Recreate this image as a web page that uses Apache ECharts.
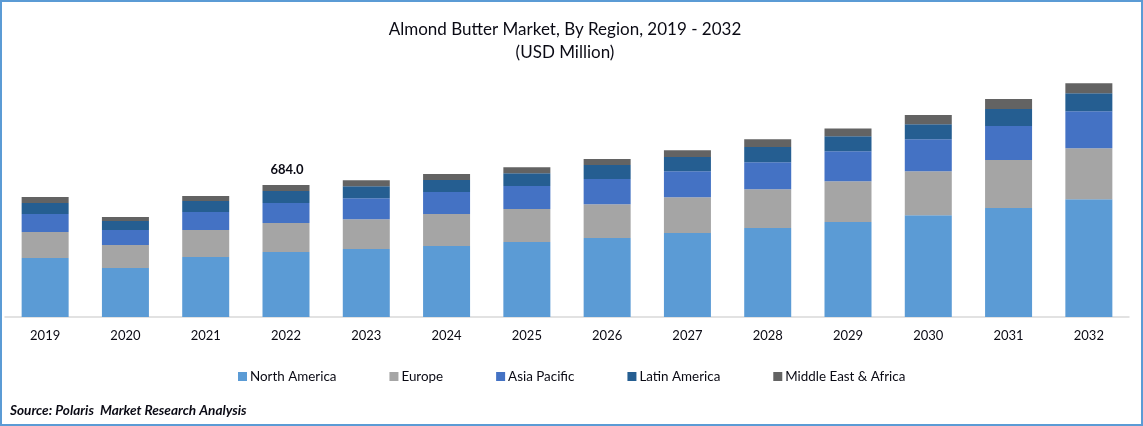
<!DOCTYPE html>
<html>
<head>
<meta charset="utf-8">
<style>
  html, body { margin: 0; padding: 0; background: #fff; }
  #chart { width: 1143px; height: 426px; }
</style>
<script src="https://cdn.jsdelivr.net/npm/echarts@6/dist/echarts.min.js"></script>
</head>
<body>
<div id="chart"></div>
<script>
// values, USD million
const years = ['2019','2020','2021','2022','2023','2024','2025','2026','2027','2028','2029','2030','2031','2032'];
const northAmerica = [306,254,311,337,352,368,389,409,435,461,492,528,565,611];
const europe       = [135,119,140,150,155,166,171,176,186,202,212,228,249,264];
const asiaPacific  = [93,78,93,104,109,114,119,130,135,140,155,166,176,192];
const latinAmerica = [57,47,57,62,62,62,67,73,73,78,78,78,88,93];
const middleEast   = [31,21,26,31,31,31,31,31,36,41,41,47,52,52];
const totalLabels  = ['','','','684.0','','','','','','','','','',''];

const fontName = 'Lato';
const textColor = '#0a0a14';

function makeSeries(name, data, color) {
  return {
    name: name,
    type: 'bar',
    stack: 'total',
    data: data,
    barWidth: 47,
    itemStyle: { color: color }
  };
}

const series = [
  makeSeries('North America', northAmerica, '#5B9BD5'),
  makeSeries('Europe', europe, '#A5A5A5'),
  makeSeries('Asia Pacific', asiaPacific, '#4472C4'),
  makeSeries('Latin America', latinAmerica, '#255E91'),
  makeSeries('Middle East & Africa', middleEast, '#636363')
];
// only 2022 carries a total
series[4].label = {
  show: true,
  position: 'top',
  distance: 9,
  offset: [1, 0],
  fontFamily: fontName,
  fontSize: 13,
  fontWeight: 'bold',
  color: textColor,
  formatter: function (p) { return totalLabels[p.dataIndex]; }
};

const chart = echarts.init(document.getElementById('chart'), null, { renderer: 'canvas' });
chart.setOption({
  animation: false,
  backgroundColor: '#fff',
  title: {
    text: 'Almond Butter Market, By Region, 2019 - 2032\n(USD Million)',
    left: 560,
    top: 13,
    textAlign: 'center',
    textStyle: {
      fontFamily: fontName,
      fontSize: 17,
      fontWeight: 'normal',
      color: textColor,
      lineHeight: 23
    }
  },
  legend: {
    left: 233,
    top: 365,
    icon: 'rect',
    itemWidth: 9,
    itemHeight: 9,
    itemGap: 53,
    textStyle: { fontFamily: fontName, fontSize: 13.4, color: textColor, padding: [0, 0, 0, -2] },
    data: series.map(s => s.name)
  },
  grid: { left: 5, right: 14, top: 47, bottom: 109 },
  xAxis: {
    type: 'category',
    data: years,
    axisLine: { lineStyle: { color: '#D9D9D9', width: 1.5 } },
    axisTick: { show: false },
    axisLabel: { margin: 12, fontFamily: fontName, fontSize: 13, color: textColor }
  },
  yAxis: { type: 'value', min: 0, max: 1400, show: false, splitLine: { show: false } },
  series: series,
  graphic: [
    {
      type: 'rect',
      shape: { x: 1, y: 1, width: 1141, height: 424 },
      style: { fill: 'none', stroke: '#5B9BD5', lineWidth: 2 }
    },
    {
      type: 'text',
      x: 10,
      y: 404,
      style: {
        text: 'Source: Polaris  Market Research Analysis',
        font: 'italic bold 13.6px ' + fontName,
        fill: textColor
      }
    }
  ]
});
</script>
</body>
</html>
